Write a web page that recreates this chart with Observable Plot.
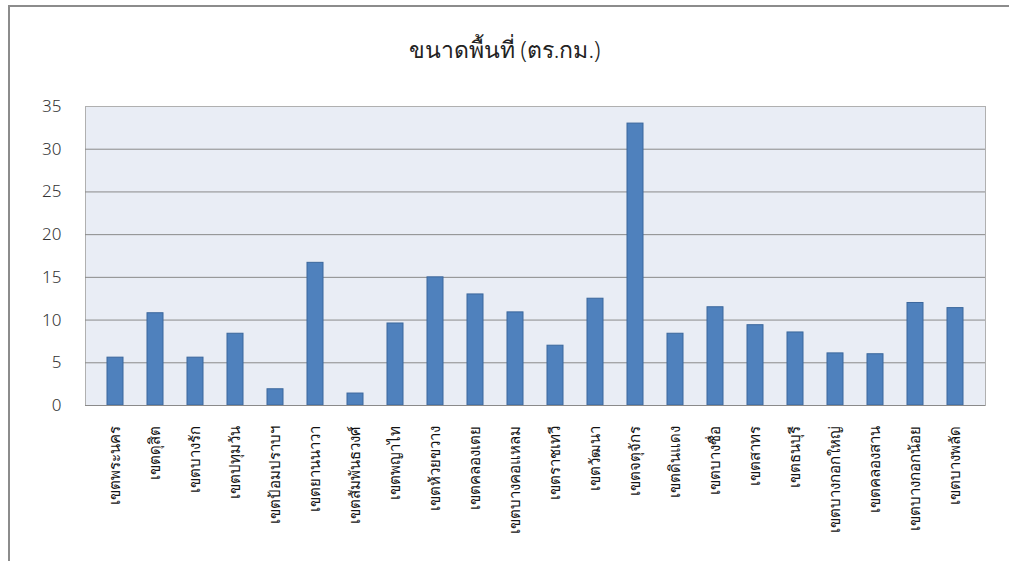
<!DOCTYPE html>
<html><head><meta charset="utf-8">
<script src="https://cdn.jsdelivr.net/npm/d3@7"></script>
<script src="https://cdn.jsdelivr.net/npm/@observablehq/plot@0.6"></script>
<style>
body{margin:0;background:#fff;font-family:"Noto Sans","DejaVu Sans",sans-serif;}
#wrap{position:relative;width:1009px;height:561px;overflow:hidden;}
#frame{position:absolute;left:8px;top:5px;width:1100px;height:700px;border:2px solid #8c8c8c;box-sizing:border-box;pointer-events:none;}
#title{height:80px;line-height:98px;text-align:center;font-size:23px;font-weight:300;color:#222;}
</style></head>
<body><div id="wrap"><div id="frame"></div><div id="title">ขนาดพื้นที่ (ตร.กม.)</div><div id="chart"></div></div>
<script>
const districts = ["เขตพระนคร","เขตดุสิต","เขตบางรัก","เขตปทุมวัน","เขตป้อมปราบฯ","เขตยานนาวา","เขตสัมพันธวงศ์","เขตพญาไท","เขตห้วยขวาง","เขตคลองเตย","เขตบางคอแหลม","เขตราชเทวี","เขตวัฒนา","เขตจตุจักร","เขตดินแดง","เขตบางซื่อ","เขตสาทร","เขตธนบุรี","เขตบางกอกใหญ่","เขตคลองสาน","เขตบางกอกน้อย","เขตบางพลัด"];
const areas = [5.6,10.8,5.6,8.4,1.9,16.7,1.4,9.6,15.0,13.0,10.9,7.0,12.5,33.0,8.4,11.5,9.4,8.55,6.1,6.0,12.0,11.4];
const yTicks = [0,5,10,15,20,25,30,35];
const data = districts.map((d,i)=>({district:d, area:areas[i]}));
const chart = Plot.plot({
  width:1009, height:481,
  marginTop:26, marginBottom:156, marginLeft:85, marginRight:24,
  style:{fontFamily:"'Noto Sans','DejaVu Sans',sans-serif", background:"transparent", fontWeight:300},
  x:{domain:districts, paddingInner:0.6, paddingOuter:0.3, label:null},
  y:{domain:[0,35], ticks:yTicks, label:null},
  marks:[
    Plot.frame({fill:"#e9edf5", stroke:"#b0b0b0"}),
    Plot.ruleY(yTicks.filter(t=>t>0 && t<35), {stroke:"#8a8a8a", strokeWidth:1}),
    Plot.barY(data, {x:"district", y:"area", fill:"#4f81bd", stroke:"#3b679c", strokeWidth:1}),
    Plot.ruleY([0], {stroke:"#8a8a8a"}),
    Plot.axisY({ticks:yTicks, tickSize:0, tickPadding:24, fontSize:17, fill:"#333", label:null}),
    Plot.axisX({tickSize:0, tickRotate:-90, tickPadding:20, fontSize:15, fill:"#111", label:null})
  ]
});
document.getElementById("chart").appendChild(chart);
</script></body></html>
